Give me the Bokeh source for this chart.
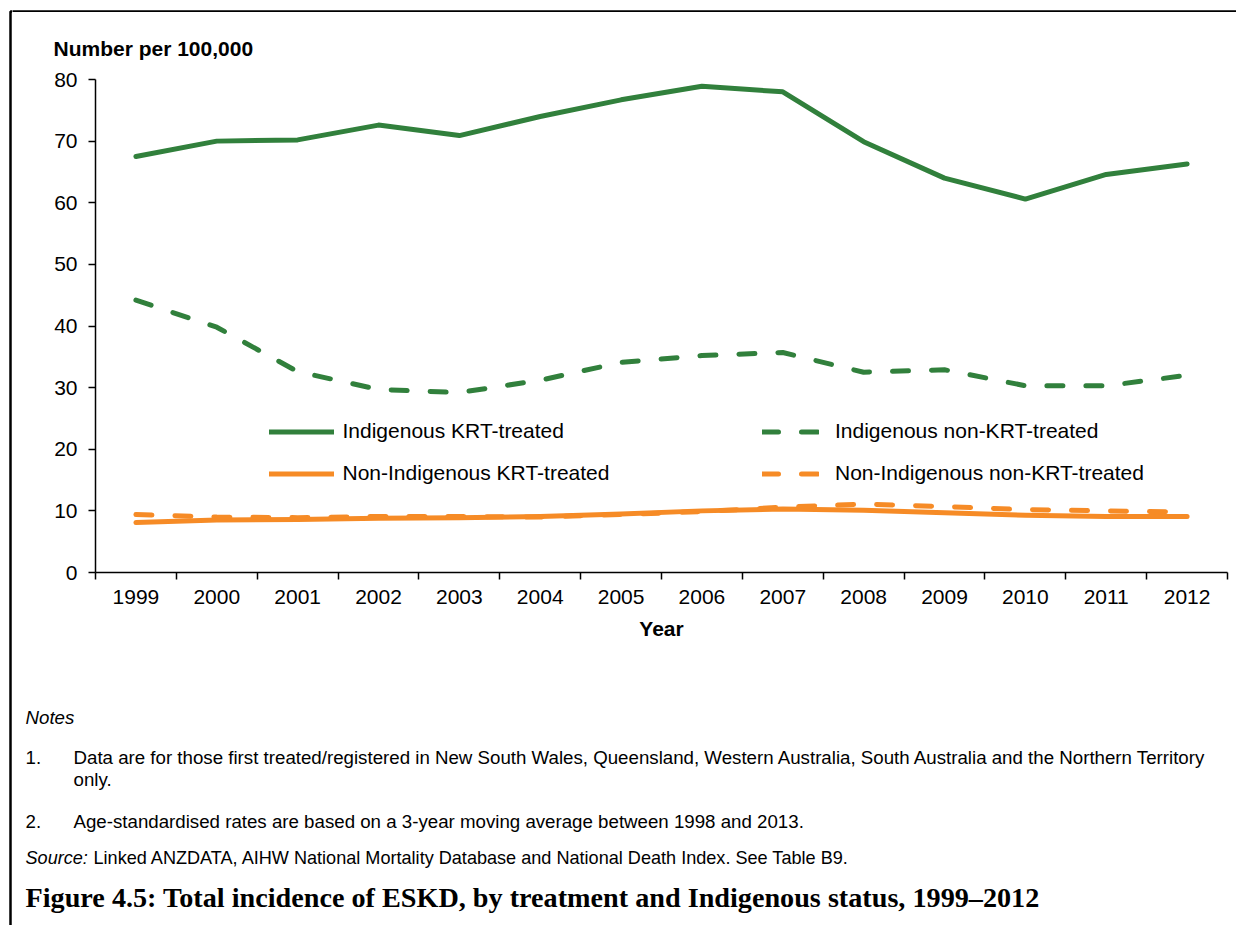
from bokeh.plotting import figure
from bokeh.layouts import row, column
from bokeh.models import (Range1d, FixedTicker, Label, Legend, LegendItem,
                          BoxAnnotation, ColumnDataSource)
from bokeh.core.validation import silence
from bokeh.core.validation.warnings import MISSING_RENDERERS
from bokeh.embed import file_html
from bokeh.resources import INLINE

silence(MISSING_RENDERERS, True)

years = ["1999", "2000", "2001", "2002", "2003", "2004", "2005",
         "2006", "2007", "2008", "2009", "2010", "2011", "2012"]
indig_krt = [67.5, 70.0, 70.2, 72.6, 70.9, 74.0, 76.7, 78.9, 78.0, 69.9, 64.0, 60.6, 64.6, 66.3]
indig_non_krt = [44.2, 39.8, 32.6, 29.7, 29.2, 31.2, 34.1, 35.2, 35.7, 32.5, 32.9, 30.3, 30.3, 32.0]
nonindig_krt = [8.1, 8.5, 8.6, 8.8, 8.9, 9.1, 9.5, 10.0, 10.3, 10.1, 9.7, 9.3, 9.1, 9.1]
nonindig_non_krt = [9.4, 9.0, 8.9, 9.1, 9.1, 9.0, 9.4, 9.9, 10.6, 11.1, 10.7, 10.2, 10.0, 9.8]
y_ticks = [0, 10, 20, 30, 40, 50, 60, 70, 80]

GREEN = "#31803c"
ORANGE = "#f68b26"
SANS = "Liberation Sans"

W, H = 1236, 925
LEFT_STRIP, TOP_STRIP = 12, 12
CHART_H = 648
NOTES_H = H - TOP_STRIP - CHART_H
RW = W - LEFT_STRIP


def blank(width, height):
    f = figure(width=width, height=height, output_backend="svg", toolbar_location=None,
               x_range=Range1d(0, 1), y_range=Range1d(0, 1),
               x_axis_location=None, y_axis_location=None, min_border=0)
    f.outline_line_color = None
    f.grid.visible = False
    f.background_fill_color = "white"
    f.border_fill_color = "white"
    f.frame_align = False
    return f


def frame_box(**kw):
    return BoxAnnotation(left_units="screen", right_units="screen",
                         top_units="screen", bottom_units="screen",
                         fill_color=None, fill_alpha=0, line_color="black",
                         line_alpha=1.0, line_width=2.5, **kw)


# ---- page frame strips (left and top edges of the boxed figure) ----
left_strip = blank(LEFT_STRIP, H)
left_strip.add_layout(frame_box(left=10, right=100, top=H - 11, bottom=-100))
top_strip = blank(RW, TOP_STRIP)
top_strip.add_layout(frame_box(left=-100, right=RW + 100, top=1, bottom=-100))

# ---- chart ----
xpos = [i + 0.5 for i in range(len(years))]
src = ColumnDataSource(dict(x=xpos, a=indig_krt, b=indig_non_krt,
                            c=nonindig_krt, d=nonindig_non_krt))

p = figure(width=RW, height=CHART_H, output_backend="svg", toolbar_location=None,
           x_range=Range1d(0, len(years)), y_range=Range1d(0, 80),
           min_border_left=83, min_border_right=9, min_border_top=67,
           min_border_bottom=CHART_H - 67 - 493,
           title="Number per 100,000")
p.frame_align = False
p.outline_line_color = None
p.grid.visible = False
p.background_fill_color = "white"
p.border_fill_color = "white"
p.title.align = "left"
p.title.offset = -42
p.title.text_font = SANS
p.title.text_font_size = "21px"
p.title.text_font_style = "bold"
p.title.text_color = "black"
p.title.standoff = 39

DASH = "16 23"
r_a = p.line("x", "a", source=src, line_color=GREEN, line_width=5,
             line_join="round", line_cap="round")
r_b = p.line("x", "b", source=src, line_color=GREEN, line_width=5,
             line_join="round", line_cap="round", line_dash=DASH)
r_c = p.line("x", "c", source=src, line_color=ORANGE, line_width=5,
             line_join="round", line_cap="round")
r_d = p.line("x", "d", source=src, line_color=ORANGE, line_width=5,
             line_join="round", line_cap="round", line_dash=DASH)

xa = p.xaxis[0]
xa.ticker = FixedTicker(ticks=xpos, minor_ticks=list(range(len(years) + 1)))
xa.major_label_overrides = {x: y for x, y in zip(xpos, years)}
xa.major_tick_line_color = None
xa.major_tick_out = 0
xa.minor_tick_out = 7
xa.minor_tick_in = 0
xa.minor_tick_line_color = "black"
xa.minor_tick_line_width = 1.5
xa.axis_line_color = "black"
xa.axis_line_width = 1.5
xa.major_label_text_font = SANS
xa.major_label_text_font_size = "21px"
xa.major_label_text_color = "black"
xa.major_label_standoff = 10
xa.axis_label = "Year"
xa.axis_label_text_font = SANS
xa.axis_label_text_font_size = "21px"
xa.axis_label_text_font_style = "bold"
xa.axis_label_text_color = "black"
xa.axis_label_standoff = 10

ya = p.yaxis[0]
ya.ticker = FixedTicker(ticks=y_ticks, minor_ticks=[])
ya.major_tick_out = 7
ya.major_tick_in = 0
ya.major_tick_line_width = 1.5
ya.major_tick_line_color = "black"
ya.minor_tick_line_color = None
ya.axis_line_color = "black"
ya.axis_line_width = 1.5
ya.major_label_text_font = SANS
ya.major_label_text_font_size = "21px"
ya.major_label_text_color = "black"
ya.major_label_standoff = 11


def make_legend(items, x, gw, standoff):
    lg = Legend(items=items, location=(x, 87), orientation="vertical",
                label_text_font=SANS, label_text_font_size="21px",
                label_text_color="black", label_height=21, glyph_height=21,
                glyph_width=gw, spacing=18, padding=0, margin=0,
                label_standoff=standoff, border_line_color=None,
                background_fill_alpha=0)
    p.add_layout(lg, "center")


make_legend([LegendItem(label="Indigenous KRT-treated", renderers=[r_a]),
             LegendItem(label="Non-Indigenous KRT-treated", renderers=[r_c])],
            173.5, 65, 9)
make_legend([LegendItem(label="Indigenous non-KRT-treated", renderers=[r_b]),
             LegendItem(label="Non-Indigenous non-KRT-treated", renderers=[r_d])],
            667, 57, 16)

# ---- notes ----
notes = blank(RW, NOTES_H)
NOTE_SIZE = "18.7px"
SOURCE_SIZE = "18.1px"


def lab(text, x, y, size=NOTE_SIZE, style="normal", font=SANS):
    notes.add_layout(Label(text=text, x=x, y=y, x_units="screen", y_units="screen",
                           text_font=font, text_font_size=size, text_font_style=style,
                           text_color="black", text_baseline="middle", text_align="left"))


lab("Notes", 13, 208, style="italic")
lab("1.", 13, 168)
lab("Data are for those first treated/registered in New South Wales, Queensland, "
    "Western Australia, South Australia and the Northern Territory", 61, 168)
lab("only.", 61, 146)
lab("2.", 13, 104)
lab("Age-standardised rates are based on a 3-year moving average between 1998 and 2013.",
    61, 104)
lab("Source:", 13, 68, size=SOURCE_SIZE, style="italic")
lab("Linked ANZDATA, AIHW National Mortality Database and National Death Index. See Table B9.",
    81, 68, size=SOURCE_SIZE)
lab("Figure 4.5: Total incidence of ESKD, by treatment and Indigenous status, 1999\u20132012",
    13, 28, size="28.2px", style="bold", font="Liberation Serif")

layout = row(left_strip, column(top_strip, p, notes))
open("out.html", "w").write(file_html(layout, INLINE))
